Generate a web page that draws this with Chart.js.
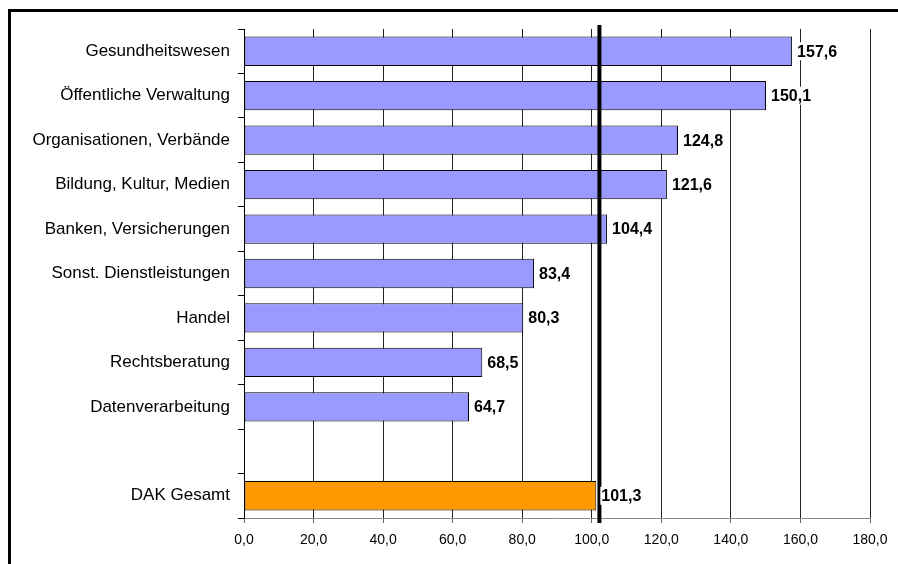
<!DOCTYPE html>
<html>
<head>
<meta charset="utf-8">
<script src="https://cdn.jsdelivr.net/npm/chart.js@4/dist/chart.umd.min.js"></script>
<style>
  body { margin: 0; background: #fff; }
  #wrap { position: relative; width: 898px; height: 564px; overflow: hidden; }
  #frame { position: absolute; left: 8px; top: 9px; width: 1000px; height: 1000px;
           border-left: 3px solid #000; border-top: 3px solid #000; pointer-events: none; }
</style>
</head>
<body>
<div id="wrap">
  <canvas id="ctx" width="898" height="564"></canvas>
  <div id="frame"></div>
</div>
<script>
var categories = ["Gesundheitswesen", "Öffentliche Verwaltung", "Organisationen, Verbände",
    "Bildung, Kultur, Medien", "Banken, Versicherungen", "Sonst. Dienstleistungen",
    "Handel", "Rechtsberatung", "Datenverarbeitung", "", "DAK Gesamt"];
var values = [157.6, 150.1, 124.8, 121.6, 104.4, 83.4, 80.3, 68.5, 64.7, null, 101.3];
var barColors = ['#9999ff', '#9999ff', '#9999ff', '#9999ff', '#9999ff', '#9999ff',
    '#9999ff', '#9999ff', '#9999ff', '#9999ff', '#ff9900'];
var refLine = 102.2;
var xTicks = [0, 20, 40, 60, 80, 100, 120, 140, 160, 180];

function fmt(v) {
    return v.toFixed(1).replace('.', ',');
}

var refLinePlugin = {
    id: 'refLine',
    afterDatasetsDraw: function (chart) {
        var c = chart.ctx, area = chart.chartArea;
        var x = chart.scales.x.getPixelForValue(refLine);
        c.save();
        c.strokeStyle = '#000';
        c.lineWidth = 4;
        c.beginPath();
        c.moveTo(x, area.top - 4);
        c.lineTo(x, area.bottom + 5);
        c.stroke();

        // value labels
        var meta = chart.getDatasetMeta(0);
        c.font = 'bold 16px "Liberation Sans", Arial, sans-serif';
        c.textBaseline = 'middle';
        c.textAlign = 'left';
        meta.data.forEach(function (bar, i) {
            if (values[i] == null) return;
            var txt = fmt(values[i]);
            var w = c.measureText(txt).width;
            var lx = bar.x + 5;
            c.fillStyle = '#fff';
            c.fillRect(lx - 1, bar.y - 9, w + 2, 18);
            c.fillStyle = '#000';
            c.fillText(txt, lx, bar.y + 1);
        });
        c.restore();
    }
};

var ctx = document.getElementById("ctx").getContext('2d');

var myChart = new Chart(ctx, {
    type: 'bar',
    data: {
        labels: categories,
        datasets: [{
            data: values,
            backgroundColor: barColors,
            borderColor: '#000',
            borderWidth: 1,
            borderSkipped: false,
            categoryPercentage: 0.66,
            barPercentage: 1
        }]
    },
    options: {
        indexAxis: 'y',
        responsive: false,
        animation: false,
        layout: { padding: { top: 29, right: 28, left: 0, bottom: 0 } },
        plugins: {
            legend: { display: false },
            tooltip: { enabled: false }
        },
        scales: {
            x: {
                min: 0,
                max: 180,
                afterBuildTicks: function (scale) {
                    scale.ticks = xTicks.map(function (v) { return { value: v }; });
                },
                afterFit: function (scale) { scale.height = 46; },
                grid: {
                    color: '#222',
                    lineWidth: 1,
                    drawTicks: true,
                    tickLength: 5,
                    tickColor: '#666'
                },
                border: { color: '#888', width: 1 },
                ticks: {
                    color: '#000',
                    padding: 9,
                    maxRotation: 0,
                    font: { family: '"Liberation Sans", Arial, sans-serif', size: 14 },
                    callback: function (v) { return fmt(v); }
                }
            },
            y: {
                afterFit: function (scale) { scale.width = 244; },
                grid: {
                    offset: true,
                    drawOnChartArea: false,
                    drawTicks: true,
                    tickLength: 6,
                    tickColor: '#000'
                },
                border: { color: '#000', width: 1 },
                ticks: {
                    color: '#000',
                    padding: 8,
                    font: { family: '"Liberation Sans", Arial, sans-serif', size: 17 }
                }
            }
        }
    },
    plugins: [refLinePlugin]
});
</script>
</body>
</html>
